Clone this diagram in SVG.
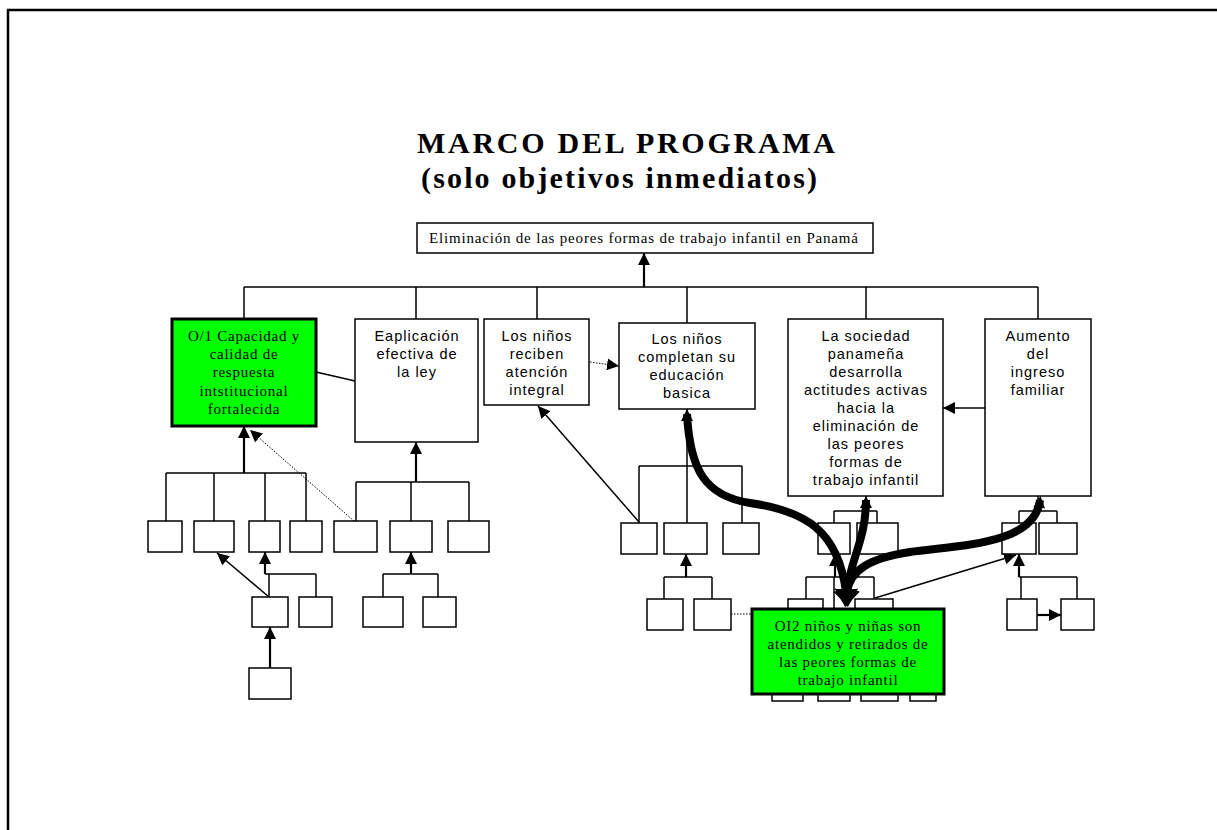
<svg xmlns="http://www.w3.org/2000/svg" width="1217" height="830" viewBox="0 0 1217 830">
<style>
.bx{fill:#fff;stroke:#000;stroke-width:1.5}
.gr{fill:#00ff00;stroke:#000;stroke-width:3}
.ln{fill:none;stroke:#000;stroke-width:1.5}
.lt{fill:none;stroke:#000;stroke-width:2.2}
.dt{fill:none;stroke:#000;stroke-width:1;stroke-dasharray:1.5 1.5}
.thk{fill:none;stroke:#000;stroke-width:8;stroke-linecap:butt}
.sf{font-family:"Liberation Serif","Times New Roman",serif;font-size:15px;letter-spacing:0.75px;text-anchor:middle;fill:#000}
.ss{font-family:"Liberation Sans",Arial,sans-serif;font-size:14.5px;letter-spacing:1px;text-anchor:middle;fill:#000}
.tt{font-family:"Liberation Serif","Times New Roman",serif;font-size:30px;font-weight:bold;text-anchor:middle;fill:#000}
</style>
<defs>
<marker id="a" viewBox="0 0 12 12" refX="12" refY="6" markerWidth="12" markerHeight="12" markerUnits="userSpaceOnUse" orient="auto"><path d="M0,0 L12,6 L0,12 z" fill="#000"/></marker>
<marker id="as" viewBox="0 0 12 12" refX="8" refY="6" markerWidth="12" markerHeight="12" markerUnits="userSpaceOnUse" orient="auto-start-reverse"><path d="M0,0 L12,6 L0,12 z" fill="#000"/></marker>
<marker id="ab" viewBox="0 0 17 25" refX="2" refY="12.5" markerWidth="17" markerHeight="25" markerUnits="userSpaceOnUse" orient="auto"><path d="M0,0 L17,12.5 L0,25 z" fill="#000"/></marker>
</defs>
<rect width="1217" height="830" fill="#fff"/>
<path d="M8,830 L8,10 L1217,10" fill="none" stroke="#000" stroke-width="2.5"/>

<g id="title">
<text class="tt" x="626" y="153" textLength="418" lengthAdjust="spacing">MARCO DEL PROGRAMA</text>
<text class="tt" x="619" y="188" textLength="396" lengthAdjust="spacing">(solo objetivos inmediatos)</text>
</g>

<g id="connectors">
<path class="ln" d="M244,287 L1038,287 M244,287 V319 M416,287 V319 M537,287 V319 M687,287 V323 M866,287 V319 M1038,287 V319"/>
<line class="lt" x1="644" y1="287" x2="644" y2="253" marker-end="url(#a)"/>
<line class="ln" x1="316" y1="372" x2="355" y2="381"/>
<line class="dt" x1="590" y1="362" x2="619" y2="366" marker-end="url(#a)"/>
<line class="ln" x1="985" y1="408" x2="943" y2="408" marker-end="url(#a)"/>
<line class="lt" x1="244" y1="473" x2="244" y2="426" marker-end="url(#a)"/>
<path class="ln" d="M166,473 H306 M166,473 V521 M214,473 V521 M265,473 V521 M306,473 V521"/>
<line class="dt" x1="354" y1="521" x2="250" y2="430" marker-end="url(#a)"/>
<line class="lt" x1="416" y1="482" x2="416" y2="442" marker-end="url(#a)"/>
<path class="ln" d="M356,482 H469 M356,482 V521 M411,482 V521 M469,482 V521"/>
<line class="lt" x1="265" y1="574" x2="265" y2="552" marker-end="url(#a)"/>
<path class="ln" d="M265,574 H316 M269,574 V597 M316,574 V597"/>
<line class="ln" x1="269" y1="597" x2="217" y2="553" marker-end="url(#a)"/>
<line class="lt" x1="270" y1="668" x2="270" y2="627" marker-end="url(#a)"/>
<line class="lt" x1="411" y1="574" x2="411" y2="552" marker-end="url(#a)"/>
<path class="ln" d="M383,574 H438 M383,574 V597 M438,574 V597"/>
<line class="ln" x1="687" y1="466" x2="687" y2="409" marker-end="url(#a)"/>
<path class="ln" d="M639,466 H742 M639,466 V523 M687,466 V523 M742,466 V523"/>
<line class="ln" x1="639" y1="522" x2="538" y2="406" marker-end="url(#a)"/>
<line class="lt" x1="686" y1="577" x2="686" y2="554" marker-end="url(#a)"/>
<path class="ln" d="M664,577 H712 M664,577 V599 M712,577 V599"/>
<line class="dt" x1="731" y1="614" x2="752" y2="614"/>
<path class="ln" d="M866,496 V511 M834,511 H877 M834,511 V523 M877,511 V523"/>
<line class="lt" x1="835" y1="577" x2="835" y2="554" marker-end="url(#a)"/>
<path class="ln" d="M806,577 H874 M806,577 V599 M834,577 V609 M874,577 V599"/>
<path class="ln" d="M1038,496 V511 M1019,511 H1057 M1019,511 V523 M1057,511 V523"/>
<line class="lt" x1="1019" y1="577" x2="1019" y2="554" marker-end="url(#a)"/>
<path class="ln" d="M1019,577 H1077 M1021,577 V599 M1077,577 V599"/>
<line class="lt" x1="1037" y1="615" x2="1061" y2="615" marker-end="url(#a)"/>
<line class="ln" x1="875" y1="598" x2="1016" y2="555" marker-end="url(#a)"/>
</g>

<g id="top-box">
<rect class="bx" x="417" y="223" width="456" height="30"/>
<text x="429" y="243" font-family="Liberation Serif, Times New Roman, serif" font-size="15" textLength="429" lengthAdjust="spacing">Eliminación de las peores formas de trabajo infantil en Panamá</text>
</g>

<g id="o1">
<rect class="gr" x="172" y="319" width="144" height="107"/>
<text class="sf" x="244" y="341">O/1 Capacidad y</text>
<text class="sf" x="244" y="359">calidad de</text>
<text class="sf" x="244" y="377">respuesta</text>
<text class="sf" x="244" y="396">intstitucional</text>
<text class="sf" x="244" y="414">fortalecida</text>
</g>

<g id="ley">
<rect class="bx" x="355" y="319" width="123" height="123"/>
<text class="ss" x="417" y="341">Eaplicación</text>
<text class="ss" x="417" y="359">efectiva de</text>
<text class="ss" x="417" y="377">la ley</text>
</g>

<g id="atencion">
<rect class="bx" x="484" y="319" width="105" height="86"/>
<text class="ss" x="537" y="341">Los niños</text>
<text class="ss" x="537" y="359">reciben</text>
<text class="ss" x="537" y="377">atención</text>
<text class="ss" x="537" y="395">integral</text>
</g>

<g id="educacion">
<rect class="bx" x="619" y="323" width="136" height="86"/>
<text class="ss" x="687" y="344">Los niños</text>
<text class="ss" x="687" y="362">completan su</text>
<text class="ss" x="687" y="380">educación</text>
<text class="ss" x="687" y="398">basica</text>
</g>

<g id="sociedad">
<rect class="bx" x="788" y="319" width="155" height="177"/>
<text class="ss" x="866" y="341">La sociedad</text>
<text class="ss" x="866" y="359">panameña</text>
<text class="ss" x="866" y="377">desarrolla</text>
<text class="ss" x="866" y="395">actitudes activas</text>
<text class="ss" x="866" y="413">hacia la</text>
<text class="ss" x="866" y="431">eliminación de</text>
<text class="ss" x="866" y="449">las peores</text>
<text class="ss" x="866" y="467">formas de</text>
<text class="ss" x="866" y="485">trabajo infantil</text>
</g>

<g id="aumento">
<rect class="bx" x="985" y="319" width="106" height="177"/>
<text class="ss" x="1038" y="341">Aumento</text>
<text class="ss" x="1038" y="359">del</text>
<text class="ss" x="1038" y="377">ingreso</text>
<text class="ss" x="1038" y="395">familiar</text>
</g>

<g id="left-boxes">
<rect class="bx" x="148" y="521" width="34" height="31"/>
<rect class="bx" x="194" y="521" width="40" height="31"/>
<rect class="bx" x="249" y="521" width="31" height="31"/>
<rect class="bx" x="290" y="521" width="32" height="31"/>
<rect class="bx" x="334" y="521" width="43" height="31"/>
<rect class="bx" x="390" y="521" width="42" height="31"/>
<rect class="bx" x="448" y="521" width="41" height="31"/>
<rect class="bx" x="252" y="597" width="36" height="30"/>
<rect class="bx" x="299" y="597" width="33" height="30"/>
<rect class="bx" x="363" y="597" width="40" height="30"/>
<rect class="bx" x="423" y="597" width="33" height="30"/>
<rect class="bx" x="249" y="668" width="42" height="31"/>
</g>

<g id="middle-boxes">
<rect class="bx" x="621" y="523" width="36" height="31"/>
<rect class="bx" x="664" y="523" width="43" height="31"/>
<rect class="bx" x="723" y="523" width="36" height="31"/>
<rect class="bx" x="647" y="599" width="36" height="31"/>
<rect class="bx" x="694" y="599" width="37" height="31"/>
</g>

<g id="right-boxes">
<rect class="bx" x="818" y="523" width="32" height="31"/>
<rect class="bx" x="857" y="523" width="41" height="31"/>
<rect class="bx" x="788" y="599" width="35" height="41"/>
<rect class="bx" x="855" y="599" width="38" height="41"/>
<rect class="bx" x="772" y="660" width="31" height="41"/>
<rect class="bx" x="818" y="660" width="32" height="41"/>
<rect class="bx" x="861" y="660" width="37" height="41"/>
<rect class="bx" x="910" y="660" width="26" height="41"/>
<rect class="bx" x="1002" y="523" width="34" height="31"/>
<rect class="bx" x="1039" y="523" width="38" height="31"/>
<rect class="bx" x="1007" y="599" width="30" height="31"/>
<rect class="bx" x="1061" y="599" width="33" height="31"/>
</g>

<g id="oi2">
<rect class="gr" x="752" y="609" width="192" height="85"/>
<text class="sf" x="848" y="631">OI2 niños y niñas son</text>
<text class="sf" x="848" y="649">atendidos y retirados de</text>
<text class="sf" x="848" y="667">las peores formas de</text>
<text class="sf" x="848" y="685">trabajo infantil</text>
</g>

<g id="thick-connectors">
<path class="thk" d="M687,414 C690,470 705,496 750,503 C805,511 838,530 846,592" marker-end="url(#ab)"/>
<path class="thk" d="M866,500 C866,540 850,560 847,592" marker-start="url(#as)" marker-end="url(#ab)"/>
<path class="thk" d="M1040,500 C1035,545 960,545 910,552 C870,558 850,570 847,592" marker-start="url(#as)" marker-end="url(#ab)"/>
</g>
</svg>
